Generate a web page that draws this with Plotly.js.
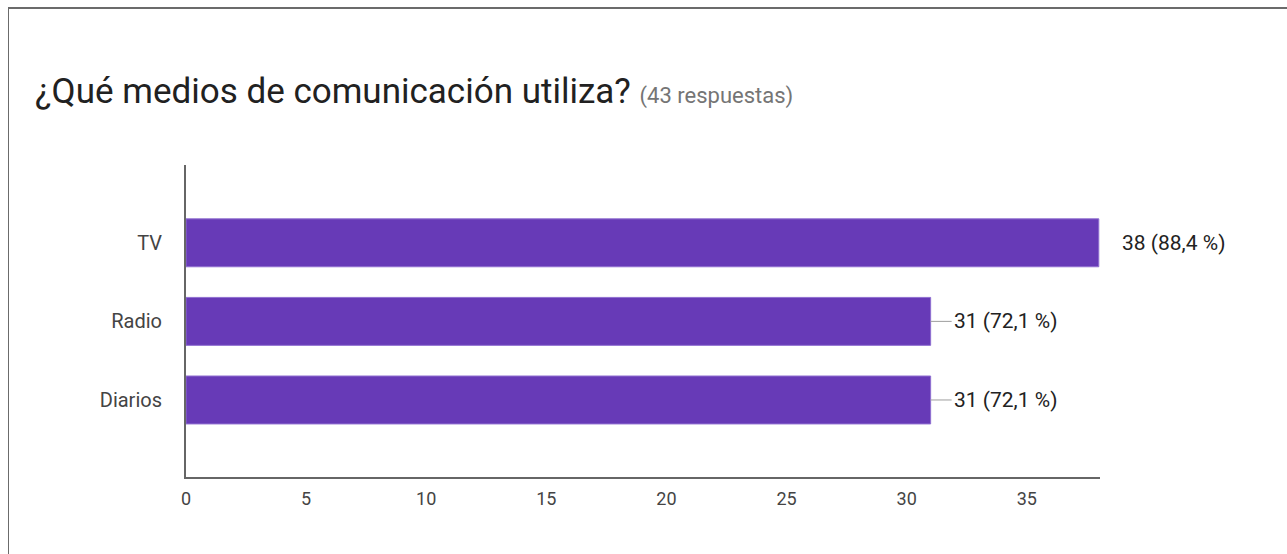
<!DOCTYPE html>
<html>
<head>
<meta charset="utf-8">
<script src="https://cdn.plot.ly/plotly-3.0.1.min.js"></script>
<style>
  html, body { margin: 0; padding: 0; background: #ffffff; }
  #frame { position: absolute; left: 8px; top: 7px; width: 1279px; height: 547px;
           border-left: 1px solid #6b6b6b; border-top: 2px solid #6b6b6b; box-sizing: border-box; }
  #chart { position: absolute; left: 0; top: 0; width: 1287px; height: 554px; }
</style>
</head>
<body>
<div id="frame"></div>
<div id="chart"></div>
<script>
const categories = ['Diarios', 'Radio', 'TV'];
const counts = [31, 31, 38];
const percents = ['72,1', '72,1', '88,4'];
const titleText = '¿Qué medios de comunicación utiliza?';
const subtitleText = '(43 respuestas)';
const xTicks = [0, 5, 10, 15, 20, 25, 30, 35];

const maxCount = Math.max(...counts);

const trace = {
  type: 'bar',
  orientation: 'h',
  y: categories,
  x: counts,
  width: 0.61,
  marker: { color: '#673ab7', line: { color: '#8f6fd0', width: 1 } },
  hoverinfo: 'none'
};

const annotations = categories.map((c, i) => ({
  x: counts[i], y: c, xref: 'x', yref: 'y',
  text: counts[i] + ' (' + percents[i] + ' %)',
  showarrow: true, arrowhead: 0, arrowwidth: 1,
  arrowcolor: counts[i] === maxCount ? 'rgba(0,0,0,0)' : '#9e9e9e',
  ax: 21, ay: 0, xanchor: 'left', standoff: 0,
  font: { family: 'Roboto, Arial, sans-serif', size: 21, color: '#222222' }
}));

const layout = {
  width: 1287, height: 554,
  paper_bgcolor: 'rgba(0,0,0,0)', plot_bgcolor: 'rgba(0,0,0,0)',
  margin: { l: 186, r: 187, t: 165, b: 77 },
  showlegend: false,
  title: {
    text: titleText + ' <span style="font-size:22px;color:#757575">' + subtitleText + '</span>',
    x: 35 / 1287, xanchor: 'left', xref: 'container',
    y: 1 - 91 / 554, yanchor: 'middle', yref: 'container',
    font: { family: 'Roboto, Arial, sans-serif', size: 35, color: '#212121' }
  },
  xaxis: {
    range: [0, 38.05], tickvals: xTicks, ticktext: xTicks.map(String),
    showgrid: false, zeroline: false,
    showline: true, linecolor: '#666666', linewidth: 2,
    ticks: 'outside', ticklen: 4, tickcolor: 'rgba(0,0,0,0)',
    tickfont: { family: 'Roboto, Arial, sans-serif', size: 18, color: '#444444' },
    fixedrange: true
  },
  yaxis: {
    type: 'category', categoryorder: 'array', categoryarray: categories,
    range: [-0.98, 2.99],
    showgrid: false, zeroline: false,
    showline: true, linecolor: '#666666', linewidth: 2,
    ticks: 'outside', ticklen: 18, tickcolor: 'rgba(0,0,0,0)',
    tickfont: { family: 'Roboto, Arial, sans-serif', size: 20, color: '#444444' },
    fixedrange: true
  },
  annotations: annotations
};

Plotly.newPlot('chart', [trace], layout, { displayModeBar: false, staticPlot: true });
</script>
</body>
</html>
